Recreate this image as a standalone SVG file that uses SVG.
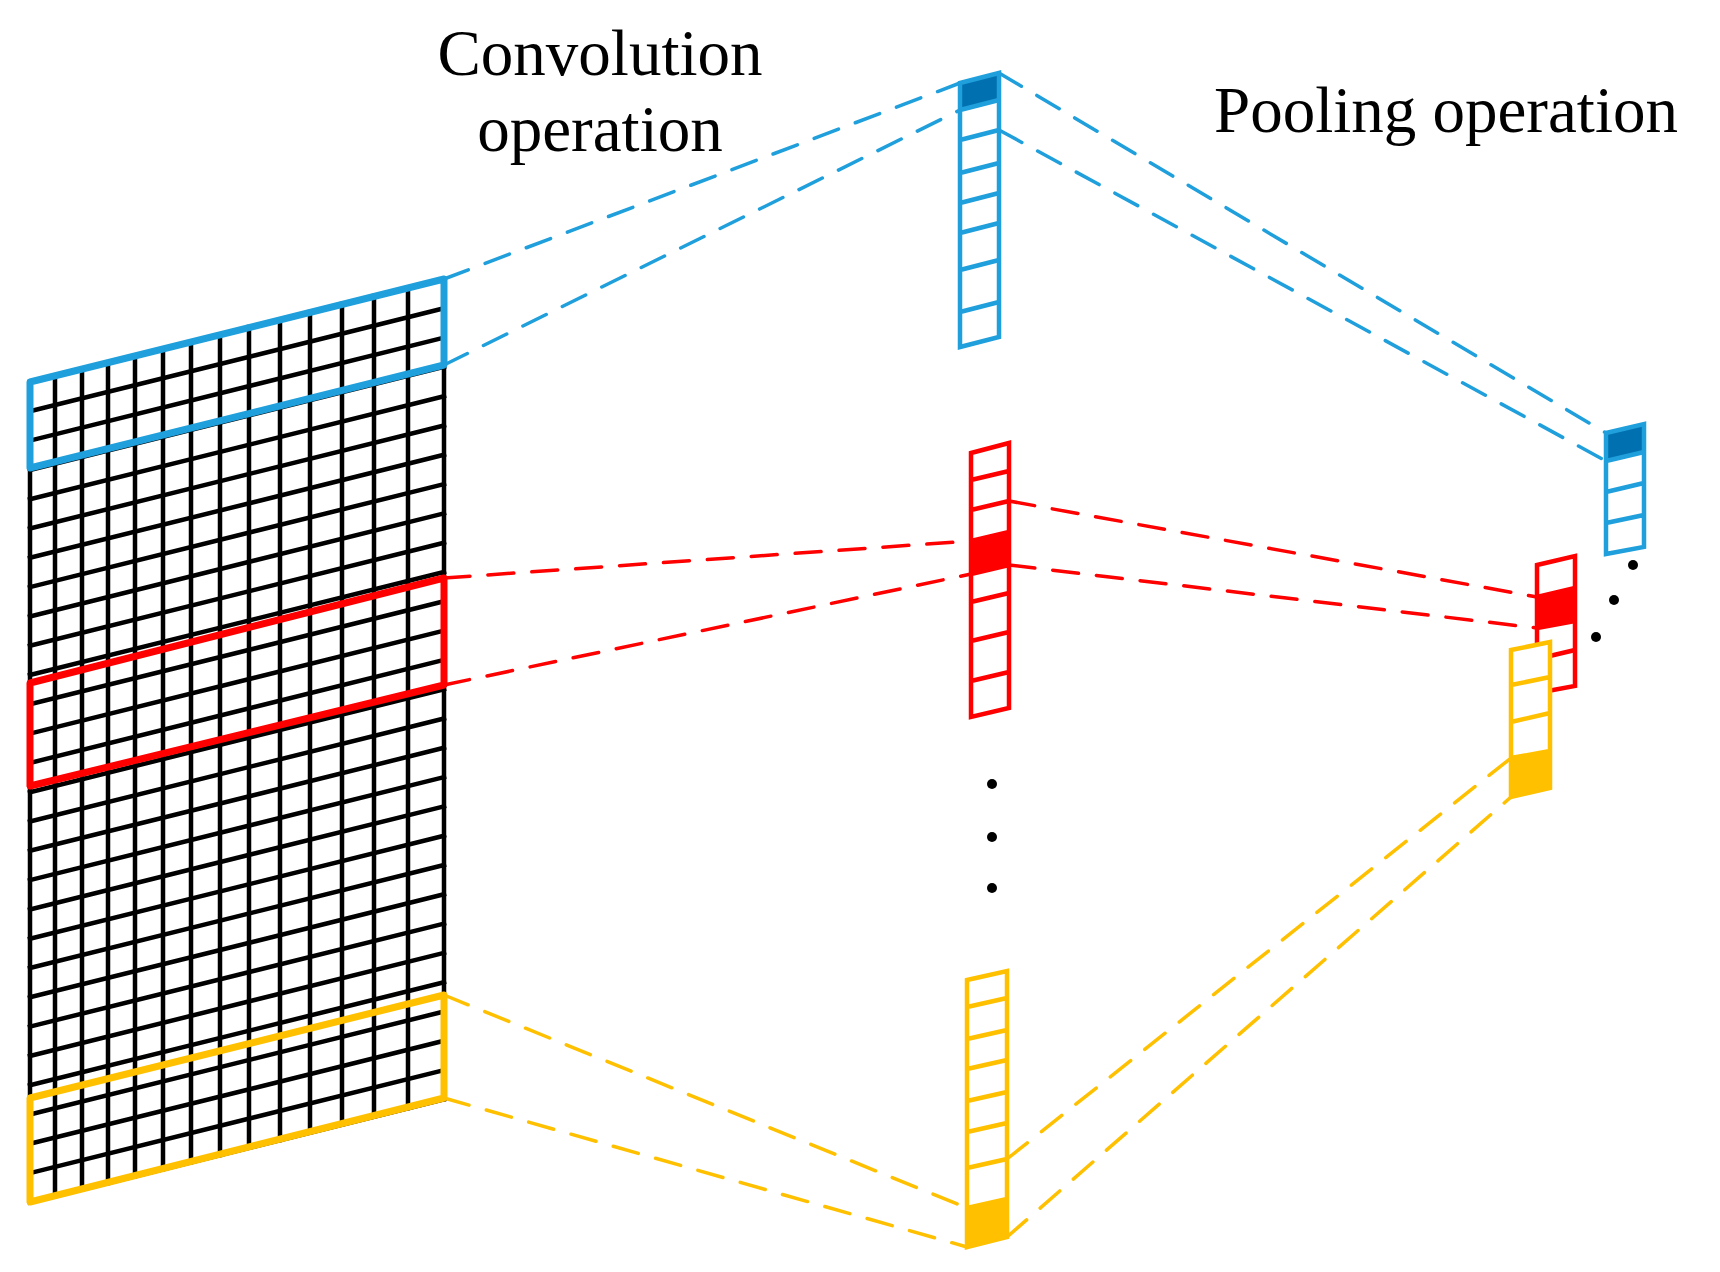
<svg xmlns="http://www.w3.org/2000/svg" width="1720" height="1272" viewBox="0 0 1720 1272">
<style>
.g{stroke:#000;stroke-width:4.5;fill:none;stroke-linecap:square}
.b{stroke:#1f9fdb}.r{stroke:#ff0000}.y{stroke:#ffc000}
.win{fill:none;stroke-width:7;stroke-linejoin:round}
.col{fill:none;stroke-width:4.5}
.d{fill:none;stroke-width:3.5;stroke-dasharray:26 18;stroke-linecap:round}
.t{font-family:"Liberation Serif","Times New Roman",serif;font-size:65px;fill:#000}
</style>
<rect width="1720" height="1272" fill="#fff"/>
<g id="grid" class="g">
<path d="M30,382L444,279M30,411.3L444,308.3M30,440.6L444,337.6M30,469.9L444,366.9M30,499.2L444,396.2M30,528.5L444,425.5M30,557.8L444,454.8M30,587.1L444,484.1M30,616.4L444,513.4M30,645.7L444,542.7M30,675L444,572M30,704.3L444,601.3M30,733.6L444,630.6M30,762.9L444,659.9M30,792.2L444,689.2M30,821.5L444,718.5M30,850.8L444,747.8M30,880.1L444,777.1M30,909.4L444,806.4M30,938.7L444,835.7M30,968L444,865M30,997.3L444,894.3M30,1026.6L444,923.6M30,1055.9L444,952.9M30,1085.2L444,982.2M30,1114.5L444,1011.5M30,1143.8L444,1040.8M30,1173.1L444,1070.1M30,1202.4L444,1099.4"/>
<path d="M30,382V1202M55,376V1196M82,369V1189M108,363V1183M135,356V1176M163,349V1169M191,342V1162M220,335V1155M249,327V1147M280,320V1140M310,312V1132M342,304V1124M374,296V1116M408,288V1108M444,279V1099"/>
</g>
<g id="windows">
<path class="win b" d="M30,382L444,279V365L30,468Z"/>
<path class="win r" d="M30,683L444,578V685L30,786Z"/>
<path class="win y" d="M30,1098L444,995V1098L30,1202Z"/>
</g>
<g id="conv-blue">
<path d="M960,83L999,73V100L960,110Z" fill="#0070b0"/>
<path class="col b" d="M960,83L999,73V337L960,347ZM960,110L999,100M960,140L999,130M960,173L999,163M960,203L999,193M960,233L999,223M960,270L999,260M960,312L999,302"/>
</g>
<g id="conv-red">
<path d="M971,541L1009,532V565L971,574Z" fill="#ff0000"/>
<path class="col r" d="M971,453L1009,443V708L971,717ZM971,480L1009,471M971,510L1009,501M971,541L1009,532M971,574L1009,565M971,602L1009,593M971,641L1009,632M971,681L1009,672"/>
</g>
<g id="conv-yellow">
<path d="M967,1208L1007,1199V1237L967,1247Z" fill="#ffc000"/>
<path class="col y" d="M967,980L1007,971V1237L967,1247ZM967,1007L1007,998M967,1039L1007,1030M967,1069L1007,1060M967,1101L1007,1092M967,1132L1007,1123M967,1168L1007,1159M967,1208L1007,1199"/>
</g>
<g id="connectors">
<path class="d b" d="M444,279L960,83M444,365L960,110M999,73L1606,433M999,130L1606,461"/>
<path class="d r" d="M444,578L971,541M444,685L971,574M1009,501L1537,597M1009,565L1537,628"/>
<path class="d y" d="M444,995L967,1208M444,1098L967,1247M1007,1159L1511,758M1007,1237L1511,797"/>
</g>
<g id="pool-blue">
<path d="M1606,433L1644,424V452L1606,461Z" fill="#0070b0"/>
<path class="col b" d="M1606,433L1644,424V547L1606,554ZM1606,461L1644,452M1606,492L1644,483M1606,523L1644,515"/>
</g>
<g id="pool-red">
<path class="col r" d="M1537,565L1575,556V686L1537,693Z"/>
<path d="M1537,597L1575,588V621L1537,628Z" fill="#ff0000"/>
<path class="col r" d="M1537,597L1575,588M1537,628L1575,621M1537,659L1575,650"/>
</g>
<g id="pool-yellow">
<path d="M1511,650L1550,642V788L1511,797Z" fill="#fff"/>
<path d="M1511,758L1550,751V788L1511,797Z" fill="#ffc000"/>
<path class="col y" d="M1511,650L1550,642V788L1511,797ZM1511,685L1550,677M1511,722L1550,713M1511,758L1550,751"/>
</g>
<g id="dots" fill="#000">
<circle cx="992" cy="784" r="5"/><circle cx="992" cy="837" r="5"/><circle cx="992" cy="888" r="5"/>
<circle cx="1633" cy="565" r="5"/><circle cx="1614" cy="600" r="5"/><circle cx="1596" cy="637" r="5"/>
</g>
<g id="labels">
<text class="t" x="600" y="75" text-anchor="middle">Convolution</text>
<text class="t" x="600" y="151" text-anchor="middle">operation</text>
<text class="t" x="1214" y="132">Pooling operation</text>
</g>
</svg>
